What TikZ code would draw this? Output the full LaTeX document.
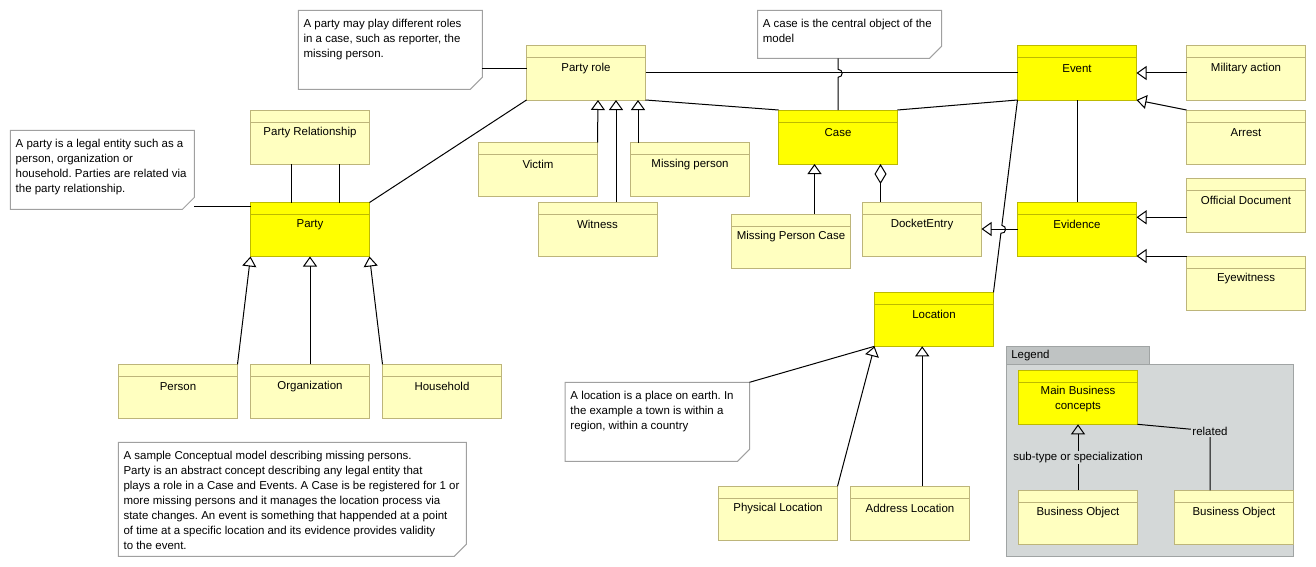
\documentclass[tikz,border=0pt]{standalone}
\usepackage{fontspec}
\setmainfont{Liberation Sans}
\usetikzlibrary{arrows.meta,calc}
\frenchspacing
\definecolor{lightfill}{HTML}{FFFFC0}
\definecolor{boxline}{HTML}{BDB57A}
\definecolor{mainfill}{HTML}{FFFF00}
\definecolor{mainline}{HTML}{BDBA00}
\definecolor{notegray}{HTML}{A0A0A0}
\definecolor{legendbody}{HTML}{D4D8D8}
\definecolor{legendtab}{HTML}{BFC3C3}
\definecolor{legendline}{HTML}{A0A4A4}
\begin{document}
\begin{tikzpicture}[x=0.75pt,y=-0.75pt,
  every node/.style={font=\fontsize{8.6}{11.25}\selectfont, text=black},
  boxshape/.style={draw=boxline, fill=lightfill, line width=0.75pt,
    minimum width=89.25pt, minimum height=40.5pt, inner sep=0pt, outer sep=0pt,
    path picture={\draw[boxline, line width=0.75pt]
      ([yshift=-9pt]path picture bounding box.north west) --
      ([yshift=-9pt]path picture bounding box.north east);}},
  mainshape/.style={draw=mainline, fill=mainfill, line width=0.75pt,
    minimum width=89.25pt, minimum height=40.5pt, inner sep=0pt, outer sep=0pt,
    path picture={\draw[mainline, line width=0.75pt]
      ([yshift=-9pt]path picture bounding box.north west) --
      ([yshift=-9pt]path picture bounding box.north east);}},
  box/.style={boxshape, label={[anchor=center, yshift=-16.6pt]north:#1}},
  mainbox/.style={mainshape, label={[anchor=center, yshift=-16.6pt]north:#1}},
  notebox/.style={inner sep=0pt, outer sep=0pt},
  notetext/.style={anchor=north west, align=left, inner sep=0pt, xshift=3.75pt, yshift=-6.4pt},
  noteoutline/.style={draw=notegray, line width=0.75pt},
  conn/.style={draw=black, line width=0.75pt},
  gen/.style={conn, -{Triangle[open, length=7.5pt, width=10.5pt]}},
  agg/.style={conn, -{Diamond[open, length=15pt, width=9pt]}}
]
\path[use as bounding box] (0,0) rectangle (1316,567);

% notes
\node[notebox, minimum width=138pt, minimum height=59.25pt,
  label={[notetext]north west:A party may play different roles\\in a case, such as reporter, the\\missing person.}] (n1) at (390.35,49.8) {};
\draw[noteoutline] (n1.north west) -- (n1.north east) -- ($(n1.south east)+(0,-12)$) -- ($(n1.south east)+(-12,0)$) -- (n1.south west) -- cycle;

\node[notebox, minimum width=138pt, minimum height=59.25pt,
  label={[notetext]north west:A party is a legal entity such as a\\person, organization or\\household. Parties are related via\\the party relationship.}] (n2) at (102.45,169.8) {};
\draw[noteoutline] (n2.north west) -- (n2.north east) -- ($(n2.south east)+(0,-12)$) -- ($(n2.south east)+(-12,0)$) -- (n2.south west) -- cycle;

\node[notebox, minimum width=138pt, minimum height=36pt,
  label={[notetext]north west:A case is the central object of the\\model}] (n3) at (849.55,34.3) {};
\draw[noteoutline] (n3.north west) -- (n3.north east) -- ($(n3.south east)+(0,-12)$) -- ($(n3.south east)+(-12,0)$) -- (n3.south west) -- cycle;

\node[notebox, minimum width=138.25pt, minimum height=59.25pt,
  label={[notetext]north west:A location is a place on earth. In\\the example a town is within a\\region, within a country}] (n4) at (657.35,421.8) {};
\draw[noteoutline] (n4.north west) -- (n4.north east) -- ($(n4.south east)+(0,-12)$) -- ($(n4.south east)+(-12,0)$) -- (n4.south west) -- cycle;

\node[notebox, minimum width=261pt, minimum height=85.5pt,
  label={[notetext]north west:A sample Conceptual model describing missing persons.\\Party is an abstract concept describing any legal entity that\\plays a role in a Case and Events. A Case is be registered for 1 or\\more missing persons and it manages the location process via\\state changes. An event is something that happended at a point\\of time at a specific location and its evidence provides validity\\to the event.}] (n5) at (292.3,499.3) {};
\draw[noteoutline] (n5.north west) -- (n5.north east) -- ($(n5.south east)+(0,-12)$) -- ($(n5.south east)+(-12,0)$) -- (n5.south west) -- cycle;

% classes
\node[box=Party role] (partyrole) at (586,73) {};
\node[box=Party Relationship] (partyrel) at (310,137.3) {};
\node[mainbox=Party] (party) at (310,229.5) {};
\node[box=Victim] (victim) at (538,169.5) {};
\node[box=Witness] (witness) at (597.5,229) {};
\node[box=Missing person] (missing) at (690,169.5) {};
\node[mainbox=Case] (case) at (838,137) {};
\node[box=Missing Person Case] (mpcase) at (791,241) {};
\node[box=DocketEntry] (docket) at (922,229) {};
\node[mainbox=Event] (event) at (1077,73) {};
\node[mainbox=Evidence] (evidence) at (1077,229) {};
\node[box=Military action] (military) at (1246,73) {};
\node[box=Arrest] (arrest) at (1246,137) {};
\node[box=Official Document] (official) at (1246,205) {};
\node[box=Eyewitness] (eyewitness) at (1246,283) {};
\node[mainbox=Location] (location) at (934,319.3) {};
\node[box=Physical Location] (physloc) at (778,513.3) {};
\node[box=Address Location] (addrloc) at (910,513.3) {};
\node[box=Person] (person) at (178,391.3) {};
\node[box=Organization] (org) at (310,391.3) {};
\node[box=Household] (household) at (442,391.3) {};

% legend
\draw[legendline, fill=legendtab, line width=0.75pt] (1006.4,346.3) rectangle (1149.5,364.3);
\draw[legendline, fill=legendbody, line width=0.75pt] (1006.4,364.3) rectangle (1293.5,556.3);
\node[anchor=west, inner sep=0pt] (legendtitle) at (1011,355.3) {Legend};
\node[mainshape, label={[anchor=center, yshift=-21.6pt, align=center]north:Main Business\\concepts}] (mbc) at (1078,397.3) {};
\node[box=Business Object] (bo1) at (1078,517.3) {};
\node[box=Business Object] (bo2) at (1234,517.3) {};

% connectors
\coordinate (c1) at ($(partyrole.north west)+(0,22.3)$);
\draw[conn] (c1 -| n1.east) -- (c1);
\coordinate (c2) at ($(party.north west)+(0,4)$);
\draw[conn] (c2 -| n2.east) -- (c2);
\coordinate (c3) at ($(partyrel.south west)+(40.8,0)$);
\draw[conn] (c3) -- (c3 |- party.north);
\coordinate (c4) at ($(partyrel.south west)+(88.8,0)$);
\draw[conn] (c4) -- (c4 |- party.north);
\draw[conn] (party.north east) -- (partyrole.south west);
\draw[gen] (person.north east) -- (party.south west);
\draw[gen] (org.north) -- (party.south);
\draw[gen] (household.north west) -- (party.south east);
\draw[gen] (victim.north east) -- ($(partyrole.south west)+(71.5,0)$);
\coordinate (c5) at ($(partyrole.south west)+(89.5,0)$);
\draw[gen] (c5 |- witness.north) -- (c5);
\coordinate (c6) at ($(partyrole.south west)+(111.5,0)$);
\draw[gen] (c6 |- missing.north) -- (c6);
\draw[conn] (partyrole.east) -- (event.west);
\draw[conn] (partyrole.south east) -- (case.north west);
\draw[conn] (case.north east) -- (event.south west);
\coordinate (c0) at (case.north |- n3.south);
\draw[conn] (c0) -- ($(c0)+(0,11)$) .. controls +(5.5,0) and +(5.5,0) .. ($(c0)+(0,19)$) -- (case.north);
\coordinate (c7) at ($(case.south west)+(36,0)$);
\draw[gen] (c7 |- mpcase.north) -- (c7);
\coordinate (c8) at ($(case.south west)+(102,0)$);
\draw[agg] (c8 |- docket.north) -- (c8);
\draw[gen] (evidence.west) -- (docket.east);
\draw[conn] (event.south) -- (evidence.north);
\draw[gen] (military.west) -- (event.east);
\draw[gen] (arrest.north west) -- (event.south east);
\coordinate (c9) at ($(evidence.north east)+(0,15.3)$);
\draw[gen] (c9 -| official.west) -- (c9);
\draw[gen] (eyewitness.north west) -- (evidence.south east);
\draw[conn] (event.south west) -- ($(event.south west)!0.6517!(location.north east)$)
  .. controls +(5.5,0.7) and +(5.5,0.7) .. ($(event.south west)!0.6930!(location.north east)$)
  -- (location.north east);
\draw[conn] (n4.north east) -- (location.south west);
\draw[gen] (physloc.north east) -- (location.south west);
\coordinate (c10) at ($(location.south west)+(47.7,0)$);
\draw[gen] (c10 |- addrloc.north) -- (c10);

% legend connectors
\draw[gen] (bo1.north) -- node[fill=legendbody, inner sep=1pt] (sublabel) {sub-type or specialization} (mbc.south);
\coordinate (rel) at (1210,431);
\draw[conn] (mbc.south east) -- (rel) node[fill=legendbody, inner sep=1pt] (rellabel) {related} -- (rel |- bo2.north);
\end{tikzpicture}
\end{document}
